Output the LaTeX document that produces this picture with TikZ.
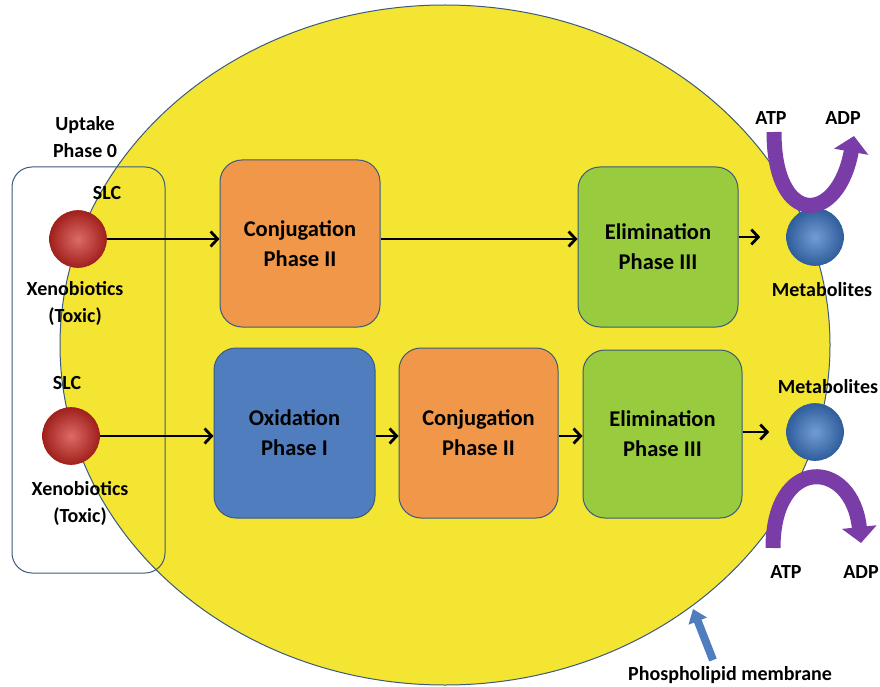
\documentclass[tikz,border=0pt]{standalone}
\usepackage{fontspec}
\setmainfont{Carlito}
\usetikzlibrary{arrows.meta,positioning,shapes.geometric}

\definecolor{cellyellow}{HTML}{F4E532}
\definecolor{conjorange}{HTML}{F0974A}
\definecolor{elimgreen}{HTML}{98CC3E}
\definecolor{oxiblue}{HTML}{4F7DBE}
\definecolor{edgeblue}{HTML}{3A5A80}
\definecolor{pumppurple}{HTML}{7A3DA8}
\definecolor{xenored}{HTML}{D23A32}
\definecolor{xenodark}{HTML}{A0201C}
\definecolor{metblue}{HTML}{5A8ACB}
\definecolor{metdark}{HTML}{2F5E9C}

\tikzset{
	phasebox/.style={draw=edgeblue, line width=1pt, rounded corners=22pt, inner sep=2pt,
		minimum width=160pt, minimum height=166pt, align=center,
		font=\fontsize{22.5}{30}\selectfont\bfseries},
	lbl/.style={align=center, inner sep=1pt, font=\fontsize{20}{27}\selectfont\bfseries},
	xeno/.style={circle, minimum size=57pt, inner sep=0pt, draw=xenodark, line width=0.6pt,
		inner color=xenored!75!white, outer color=xenodark},
	metab/.style={circle, minimum size=57pt, inner sep=0pt, draw=metdark, line width=0.6pt,
		inner color=metblue!85!white, outer color=metdark},
	flow/.style={line width=2.8pt, -{Straight Barb[length=7pt,width=15pt]}},
	pump/.style={pumppurple, line width=15pt, -{Triangle[length=16pt,width=34pt]}},
	membrane/.style={draw=oxiblue, line width=8pt, -{Triangle[length=13pt,width=19pt]}}
}

\begin{document}
\begin{tikzpicture}[x=1pt,y=-1pt]
	\useasboundingbox (0,0) rectangle (880,687);
	%\draw[help lines, step=50] (0,0) grid (880,687);

	% the cell
	\filldraw[fill=cellyellow, draw=edgeblue, line width=1pt] (445,345) ellipse [x radius=385pt, y radius=340pt];

	% uptake frame
	\node[draw=edgeblue, line width=1pt, rounded corners=20pt, minimum width=153pt, minimum height=406pt] (uptake) at (88.5,370) {};
	\node[lbl] (uptakelbl) at (85,137) {Uptake\\Phase 0};

	% xenobiotics
	\node[xeno] (xenoA) at (78,239) {};
	\node[xeno] (xenoB) at (71,436) {};
	\node[lbl] (slcA) at (107,193) {SLC};
	\node[lbl] (slcB) at (67,383) {SLC};
	\node[lbl] (toxA) at (75,303) {Xenobiotics\\(Toxic)};
	\node[lbl] (toxB) at (80,503) {Xenobiotics\\(Toxic)};

	% phases
	\node[phasebox, fill=conjorange, minimum height=167pt] (conjA) at (300,243.5) {Conjugation\\Phase II};
	\node[phasebox, fill=elimgreen, minimum height=160pt] (elimA) at (658,247) {Elimination\\Phase III};
	\node[phasebox, fill=oxiblue, minimum width=161pt, minimum height=170pt] (oxi) at (294.5,433) {Oxidation\\Phase I};
	\node[phasebox, fill=conjorange, minimum width=159pt, minimum height=170pt] (conjB) at (478.5,433) {Conjugation\\Phase II};
	\node[phasebox, fill=elimgreen, minimum width=159pt, minimum height=168pt] (elimB) at (662.5,434) {Elimination\\Phase III};

	% metabolites
	\node[metab] (metA) at (815,237) {};
	\node[metab] (metB) at (815,432) {};
	\node[lbl] (metlblA) at (822,290) {Metabolites};
	\node[lbl] (metlblB) at (828,387) {Metabolites};

	% flow
	\draw[flow] (xenoA.east) -- (xenoA.east -| conjA.west);
	\draw[flow] (conjA.east |- xenoA.east) -- (conjA.east |- xenoA.east -| elimA.west);
	\draw[flow, shorten >=26pt] (elimA.east |- metA) -- (metA.west);
	\draw[flow] (xenoB.east) -- (xenoB.east -| oxi.west);
	\draw[flow] (oxi.east |- xenoB.east) -- (xenoB.east -| conjB.west);
	\draw[flow] (conjB.east |- xenoB.east) -- (xenoB.east -| elimB.west);
	\draw[flow, shorten >=17pt] (elimB.east |- metB) -- (metB.west);

	% ATP pumps
	\node[lbl] (atpA) at (771,118) {ATP};
	\node[lbl] (adpA) at (843,118) {ADP};
	\node[lbl] (atpB) at (786,572) {ATP};
	\node[lbl] (adpB) at (861,572) {ADP};
	\coordinate (pumpAin) at (774,132);
	\coordinate (pumpAout) at (854,136);
	\coordinate (pumpBin) at (773,548);
	\coordinate (pumpBout) at (861,543);
	\draw[pump] (pumpAin) .. controls (774,228) and (838,225) .. (pumpAout);
	\draw[pump] (pumpBin) .. controls (773,455) and (852,458) .. (pumpBout);

	% membrane
	\node[lbl] (memlbl) at (730,675) {Phospholipid membrane};
	\coordinate (memhit) at (693,609);
	\draw[membrane] (713,660) -- (memhit);
\end{tikzpicture}
\end{document}
